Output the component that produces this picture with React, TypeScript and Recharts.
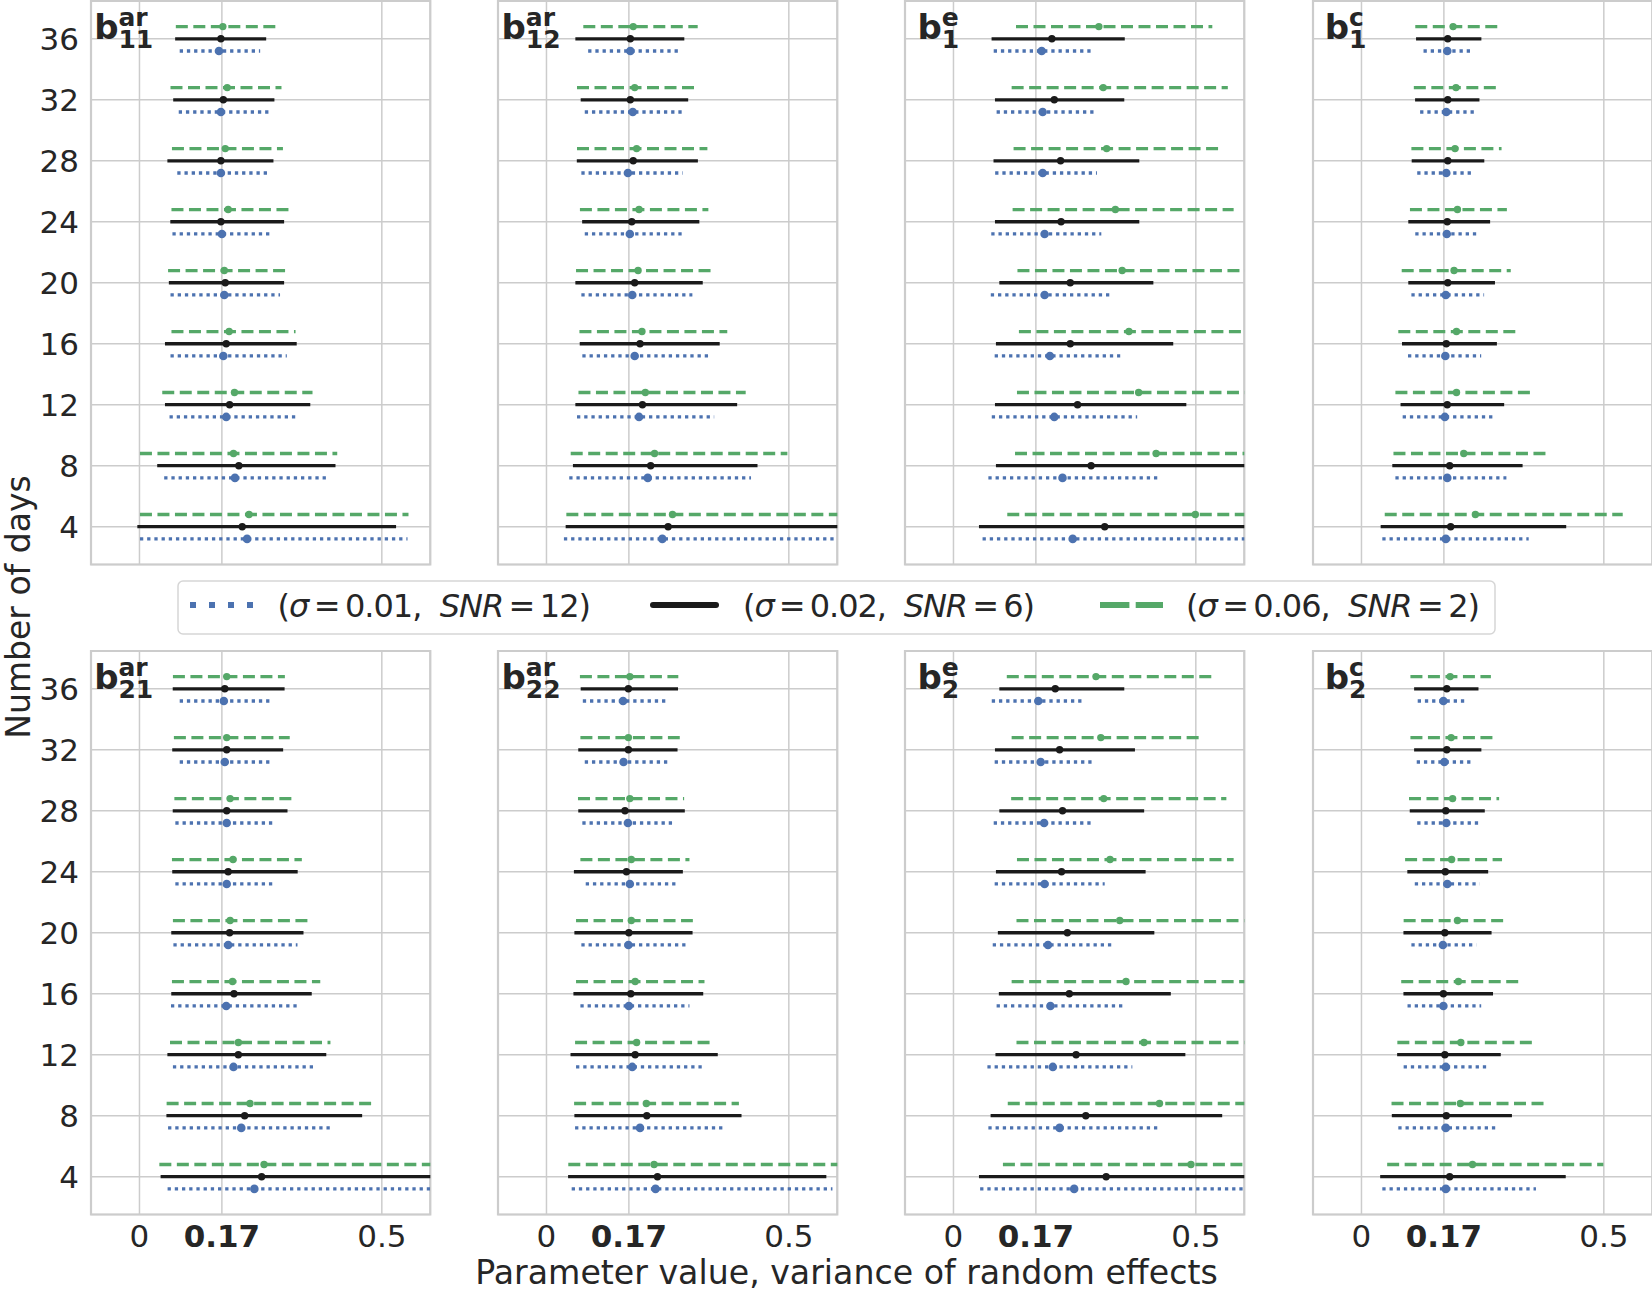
import React from 'react';
import {
  ScatterChart,
  Scatter,
  XAxis,
  YAxis,
  CartesianGrid,
  ReferenceLine,
  ReferenceArea,
} from 'recharts';

// ---------------- data ----------------
const days = [4, 8, 12, 16, 20, 24, 28, 32, 36];
const xTicks = [0, 0.17, 0.5];
const xTickLabels = ['0', '0.17', '0.5'];
const yTicks = [4, 8, 12, 16, 20, 24, 28, 32, 36];
const xDomain: [number, number] = [-0.1, 0.6];
const yDomain: [number, number] = [1.52, 38.48];

// each row: [lower, estimate, upper], one row per entry of `days`
const b11arBlue = [[0.001, 0.222, 0.553], [0.051, 0.197, 0.388], [0.062, 0.179, 0.324], [0.064, 0.173, 0.304], [0.064, 0.175, 0.29], [0.068, 0.17, 0.276], [0.078, 0.168, 0.267], [0.081, 0.168, 0.271], [0.083, 0.164, 0.249]];
const b11arBlack = [[-0.001, 0.212, 0.526], [0.04, 0.205, 0.401], [0.056, 0.186, 0.349], [0.056, 0.179, 0.321], [0.064, 0.177, 0.295], [0.067, 0.168, 0.295], [0.061, 0.168, 0.273], [0.073, 0.173, 0.275], [0.077, 0.168, 0.258]];
const b11arGreen = [[0.001, 0.226, 0.555], [0.001, 0.194, 0.408], [0.047, 0.196, 0.357], [0.066, 0.185, 0.322], [0.059, 0.175, 0.305], [0.066, 0.183, 0.311], [0.067, 0.177, 0.296], [0.064, 0.181, 0.293], [0.075, 0.172, 0.284]];

const b12arBlue = [[0.036, 0.239, 0.6], [0.047, 0.209, 0.422], [0.063, 0.191, 0.346], [0.074, 0.182, 0.339], [0.072, 0.177, 0.301], [0.079, 0.172, 0.283], [0.072, 0.168, 0.281], [0.079, 0.178, 0.286], [0.086, 0.173, 0.276]];
const b12arBlack = [[0.043, 0.251, 0.65], [0.058, 0.215, 0.432], [0.063, 0.198, 0.39], [0.072, 0.193, 0.354], [0.063, 0.182, 0.319], [0.077, 0.176, 0.312], [0.066, 0.179, 0.309], [0.074, 0.173, 0.289], [0.063, 0.173, 0.281]];
const b12arGreen = [[0.041, 0.26, 0.7], [0.05, 0.223, 0.497], [0.066, 0.204, 0.411], [0.068, 0.197, 0.373], [0.061, 0.189, 0.346], [0.069, 0.191, 0.334], [0.063, 0.186, 0.332], [0.063, 0.182, 0.31], [0.076, 0.179, 0.312]];

const b1eBlue = [[0.06, 0.246, 0.65], [0.072, 0.225, 0.427], [0.079, 0.208, 0.379], [0.085, 0.199, 0.344], [0.077, 0.188, 0.323], [0.078, 0.188, 0.305], [0.086, 0.184, 0.296], [0.089, 0.184, 0.293], [0.083, 0.182, 0.289]];
const b1eBlack = [[0.056, 0.312, 0.8], [0.091, 0.284, 0.7], [0.089, 0.256, 0.477], [0.091, 0.241, 0.45], [0.098, 0.241, 0.409], [0.089, 0.222, 0.38], [0.086, 0.221, 0.38], [0.089, 0.208, 0.349], [0.082, 0.203, 0.35]];
const b1eGreen = [[0.111, 0.499, 0.9], [0.127, 0.418, 0.7], [0.131, 0.382, 0.75], [0.135, 0.362, 0.7], [0.132, 0.348, 0.65], [0.122, 0.334, 0.578], [0.124, 0.316, 0.552], [0.12, 0.309, 0.566], [0.129, 0.3, 0.534]];

const b1cBlue = [[0.043, 0.174, 0.345], [0.07, 0.177, 0.299], [0.085, 0.172, 0.271], [0.096, 0.173, 0.247], [0.103, 0.174, 0.253], [0.111, 0.176, 0.242], [0.115, 0.175, 0.233], [0.121, 0.175, 0.235], [0.128, 0.177, 0.227]];
const b1cBlack = [[0.043, 0.184, 0.419], [0.067, 0.182, 0.329], [0.084, 0.177, 0.291], [0.087, 0.175, 0.276], [0.1, 0.178, 0.272], [0.1, 0.177, 0.262], [0.107, 0.178, 0.25], [0.114, 0.178, 0.24], [0.116, 0.178, 0.244]];
const b1cGreen = [[0.048, 0.235, 0.539], [0.066, 0.211, 0.386], [0.07, 0.196, 0.353], [0.076, 0.196, 0.321], [0.083, 0.191, 0.308], [0.1, 0.198, 0.3], [0.103, 0.193, 0.289], [0.108, 0.195, 0.281], [0.111, 0.189, 0.283]];

const b21arBlue = [[0.058, 0.237, 0.7], [0.059, 0.21, 0.395], [0.069, 0.194, 0.365], [0.065, 0.179, 0.327], [0.07, 0.183, 0.326], [0.074, 0.18, 0.282], [0.074, 0.18, 0.282], [0.083, 0.176, 0.274], [0.083, 0.174, 0.274]];
const b21arBlack = [[0.047, 0.252, 0.7], [0.059, 0.217, 0.456], [0.061, 0.204, 0.382], [0.069, 0.195, 0.352], [0.069, 0.186, 0.335], [0.071, 0.183, 0.323], [0.072, 0.18, 0.302], [0.071, 0.18, 0.293], [0.072, 0.176, 0.296]];
const b21arGreen = [[0.041, 0.257, 0.7], [0.056, 0.228, 0.484], [0.063, 0.204, 0.394], [0.067, 0.192, 0.373], [0.069, 0.187, 0.349], [0.067, 0.193, 0.335], [0.072, 0.187, 0.316], [0.071, 0.18, 0.31], [0.069, 0.18, 0.3]];

const b22arBlue = [[0.052, 0.225, 0.59], [0.059, 0.193, 0.371], [0.061, 0.177, 0.325], [0.07, 0.17, 0.295], [0.072, 0.169, 0.293], [0.081, 0.172, 0.272], [0.074, 0.168, 0.264], [0.079, 0.159, 0.251], [0.075, 0.158, 0.247]];
const b22arBlack = [[0.048, 0.229, 0.574], [0.061, 0.207, 0.399], [0.053, 0.183, 0.35], [0.059, 0.174, 0.32], [0.061, 0.17, 0.298], [0.06, 0.165, 0.278], [0.069, 0.162, 0.282], [0.069, 0.169, 0.267], [0.074, 0.169, 0.268]];
const b22arGreen = [[0.045, 0.222, 0.65], [0.057, 0.206, 0.397], [0.059, 0.186, 0.342], [0.061, 0.183, 0.326], [0.061, 0.175, 0.302], [0.07, 0.175, 0.295], [0.065, 0.172, 0.284], [0.07, 0.169, 0.275], [0.069, 0.172, 0.272]];

const b2eBlue = [[0.055, 0.249, 0.65], [0.072, 0.219, 0.426], [0.07, 0.205, 0.369], [0.089, 0.2, 0.354], [0.081, 0.195, 0.327], [0.085, 0.188, 0.312], [0.083, 0.187, 0.291], [0.085, 0.18, 0.289], [0.079, 0.175, 0.268]];
const b2eBlack = [[0.056, 0.315, 0.8], [0.08, 0.273, 0.551], [0.09, 0.253, 0.475], [0.097, 0.239, 0.445], [0.095, 0.235, 0.411], [0.091, 0.223, 0.393], [0.098, 0.225, 0.39], [0.089, 0.219, 0.371], [0.098, 0.21, 0.349]];
const b2eGreen = [[0.102, 0.49, 0.9], [0.112, 0.425, 0.75], [0.13, 0.393, 0.7], [0.12, 0.356, 0.65], [0.13, 0.343, 0.65], [0.131, 0.323, 0.578], [0.119, 0.31, 0.563], [0.12, 0.304, 0.511], [0.11, 0.294, 0.532]];

const b2cBlue = [[0.043, 0.174, 0.36], [0.076, 0.174, 0.284], [0.087, 0.174, 0.259], [0.095, 0.169, 0.247], [0.103, 0.168, 0.237], [0.11, 0.177, 0.244], [0.115, 0.175, 0.244], [0.114, 0.171, 0.228], [0.116, 0.169, 0.215]];
const b2cBlack = [[0.042, 0.182, 0.418], [0.066, 0.175, 0.307], [0.077, 0.172, 0.284], [0.09, 0.169, 0.268], [0.09, 0.172, 0.265], [0.098, 0.173, 0.258], [0.103, 0.174, 0.251], [0.112, 0.176, 0.244], [0.112, 0.176, 0.238]];
const b2cGreen = [[0.053, 0.229, 0.499], [0.062, 0.204, 0.38], [0.074, 0.205, 0.355], [0.082, 0.2, 0.329], [0.087, 0.198, 0.297], [0.09, 0.186, 0.29], [0.098, 0.188, 0.284], [0.101, 0.185, 0.273], [0.101, 0.183, 0.267]];

const legendLabels = [
  { sigma: '0.01', snr: '12' },
  { sigma: '0.02', snr: '6' },
  { sigma: '0.06', snr: '2' },
];

// ---------------- styling ----------------
const FONT = '"DejaVu Sans", Verdana, sans-serif';
const TEXT = '#262626';
const GRID = '#cccccc';
const BLUE = '#4c72b0';
const BLACK = '#1a1a1a';
const GREEN = '#55a868';

const seriesStyles = [
  { name: 'blue', color: BLUE, offset: -0.8, dash: '3.3 3.9', cap: 'butt', r: 4.3, width: 3.3 },
  { name: 'black', color: BLACK, offset: 0, dash: undefined, cap: 'square', r: 3.7, width: 3.3 },
  { name: 'green', color: GREEN, offset: 0.8, dash: '12 5.5', cap: 'butt', r: 3.7, width: 3.3 },
];

const panels = [
  { sup: 'ar', sub: '11', series: [b11arBlue, b11arBlack, b11arGreen] },
  { sup: 'ar', sub: '12', series: [b12arBlue, b12arBlack, b12arGreen] },
  { sup: 'e', sub: '1', series: [b1eBlue, b1eBlack, b1eGreen] },
  { sup: 'c', sub: '1', series: [b1cBlue, b1cBlack, b1cGreen] },
  { sup: 'ar', sub: '21', series: [b21arBlue, b21arBlack, b21arGreen] },
  { sup: 'ar', sub: '22', series: [b22arBlue, b22arBlack, b22arGreen] },
  { sup: 'e', sub: '2', series: [b2eBlue, b2eBlack, b2eGreen] },
  { sup: 'c', sub: '2', series: [b2cBlue, b2cBlack, b2cGreen] },
];

// layout
const PANEL_W = 339.3;
const PANEL_H = 563.5;
const COL_LEFT = [90.7, 498.0, 905.3, 1312.6];
const ROW_TOP = [0.5, 650.5];
const Y_AXIS_W = 70;
const X_AXIS_H = 50;
const M_T = 3;
const M_R = 3;

const XTick = (props: any) => {
  const { x, y, payload } = props;
  const idx = xTicks.indexOf(payload.value);
  const label = idx >= 0 ? xTickLabels[idx] : String(payload.value);
  const bold = payload.value === 0.17;
  return (
    <text x={x} y={y} dy="0.71em" textAnchor="middle" fontSize={31} fontFamily={FONT}
      fontWeight={bold ? 700 : 400} fill={TEXT}>
      {label}
    </text>
  );
};

const YTick = (props: any) => {
  const { x, y, payload } = props;
  return (
    <text x={x} y={y} dy="0.36em" textAnchor="end" fontSize={31} fontFamily={FONT} fill={TEXT}>
      {payload.value}
    </text>
  );
};

const NoTick = () => <g />;

const Dot = (r: number, color: string) => (p: any) =>
  <circle cx={p.cx} cy={p.cy} r={r} fill={color} stroke="none" />;

function Panel({ idx }: { idx: number }) {
  const row = idx < 4 ? 0 : 1;
  const col = idx % 4;
  const panel = panels[idx];
  const showX = row === 1;
  const showY = col === 0;
  const width = Y_AXIS_W + PANEL_W + M_R;
  const height = M_T + PANEL_H + X_AXIS_H;
  return (
    <div style={{ position: 'absolute', left: COL_LEFT[col] - Y_AXIS_W, top: ROW_TOP[row] - M_T, width, height }}>
      <ScatterChart width={width} height={height} margin={{ top: M_T, right: M_R, left: 0, bottom: 0 }}>
        <CartesianGrid stroke={GRID} strokeWidth={1.5} />
        <XAxis type="number" dataKey="x" domain={xDomain} ticks={xTicks} allowDataOverflow
          height={X_AXIS_H} tickLine={false} axisLine={false} tickSize={0} tickMargin={10}
          tick={showX ? <XTick /> : <NoTick />} interval={0} />
        <YAxis type="number" dataKey="y" domain={yDomain} ticks={yTicks} allowDataOverflow
          width={Y_AXIS_W} tickLine={false} axisLine={false} tickSize={0} tickMargin={12}
          tick={showY ? <YTick /> : <NoTick />} interval={0} />
        <ReferenceArea x1={xDomain[0]} x2={xDomain[1]} y1={yDomain[0]} y2={yDomain[1]}
          fill="none" fillOpacity={0} stroke={GRID} strokeWidth={2.2} ifOverflow="visible" />
        {seriesStyles.map((s, si) =>
          panel.series[si].map((v, di) => (
            <ReferenceLine key={`${s.name}-${di}`} ifOverflow="hidden"
              segment={[{ x: v[0], y: days[di] + s.offset }, { x: v[2], y: days[di] + s.offset }]}
              stroke={s.color} strokeWidth={s.width} strokeDasharray={s.dash}
              strokeLinecap={s.cap as any} />
          ))
        )}
        {seriesStyles.map((s, si) => (
          <Scatter key={s.name} name={s.name} isAnimationActive={false}
            data={panel.series[si].map((v, di) => ({ x: v[1], y: days[di] + s.offset }))}
            fill={s.color} shape={Dot(s.r, s.color)} />
        ))}
      </ScatterChart>
    </div>
  );
}

// bold DejaVu widths (em) for the few glyphs in panel titles
const BOLD_W: Record<string, number> = { a: 0.675, r: 0.493, e: 0.678, c: 0.593, '1': 0.696, '2': 0.696 };
const wBold = (s: string, size: number) => s.split('').reduce((acc, ch) => acc + (BOLD_W[ch] || 0.65) * size, 0);

function Title({ idx }: { idx: number }) {
  const row = idx < 4 ? 0 : 1;
  const col = idx % 4;
  const p = panels[idx];
  const left = COL_LEFT[col];
  const top = ROW_TOP[row];
  const bSize = 34;
  const sSize = 25;
  const bW = 0.716 * bSize;
  const total = bW + Math.max(wBold(p.sup, sSize), wBold(p.sub, sSize));
  const x0 = left + 33 - total / 2;
  return (
    <g fontFamily={FONT} fontWeight={700} fill={TEXT}>
      <text x={x0} y={top + 38.5} fontSize={bSize}>b</text>
      <text x={x0 + bW} y={top + 25.5} fontSize={sSize}>{p.sup}</text>
      <text x={x0 + bW} y={top + 47.5} fontSize={sSize}>{p.sub}</text>
    </g>
  );
}

const legendItems = [
  { sx: 190, tx: 277.6, tl: 313.4, color: BLUE, dash: '6 13', cap: 'butt' },
  { sx: 653, tx: 743, tl: 292, color: BLACK, dash: undefined, cap: 'round' },
  { sx: 1100, tx: 1186, tl: 294, color: GREEN, dash: '29.4 6.3', cap: 'butt' },
];

export default function App() {
  return (
    <div style={{ position: 'absolute', left: 0, top: 0, width: 1652, height: 1291, background: '#ffffff', overflow: 'hidden' }}>
      {panels.map((_, i) => <Panel key={i} idx={i} />)}
      <svg width={1652} height={1291} style={{ position: 'absolute', left: 0, top: 0, pointerEvents: 'none' }}>
        {panels.map((_, i) => <Title key={i} idx={i} />)}
        <rect x={178} y={581} width={1317} height={53} rx={5} ry={5} fill="#ffffff" fillOpacity={0.9}
          stroke="#d6d6d6" strokeWidth={1.5} />
        {legendItems.map((it, i) => (
          <g key={i}>
            <line x1={it.sx} x2={it.sx + 63} y1={605} y2={605} stroke={it.color} strokeWidth={6}
              strokeDasharray={it.dash} strokeLinecap={it.cap as any} />
            <text x={it.tx} y={616.5} fontSize={32} fontFamily={FONT} fill={TEXT}
              textLength={it.tl} lengthAdjust="spacing" style={{ whiteSpace: 'pre' }}>
              (<tspan fontStyle="italic">σ</tspan>{`\u2009=\u2009${legendLabels[i].sigma},  `}<tspan fontStyle="italic">SNR</tspan>{`\u2009=\u2009${legendLabels[i].snr})`}
            </text>
          </g>
        ))}
        <text x={846.5} y={1284} textAnchor="middle" fontSize={33.2} fontFamily={FONT} fill={TEXT}>
          Parameter value, variance of random effects
        </text>
        <text transform="translate(30,607) rotate(-90)" textAnchor="middle" fontSize={33} fontFamily={FONT} fill={TEXT}>
          Number of days
        </text>
      </svg>
    </div>
  );
}
